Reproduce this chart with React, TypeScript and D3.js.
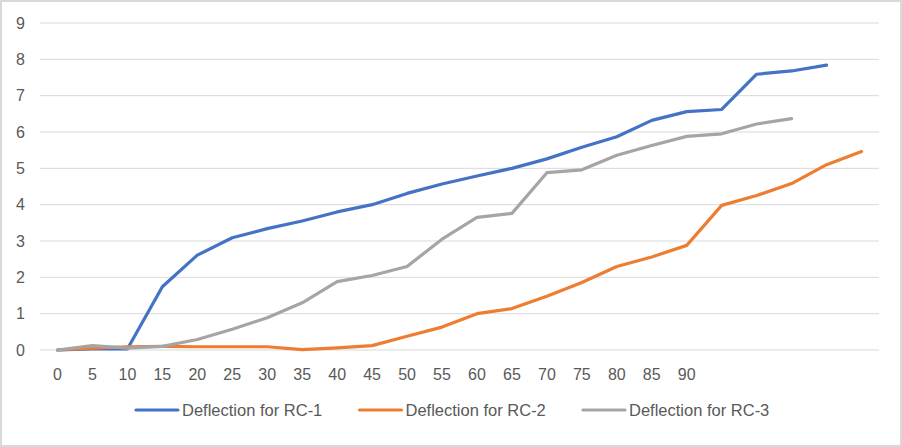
import React from 'react';
import * as d3 from 'd3';

// categories (load steps); only 0..90 carry a visible label
const categories = ['0', '5', '10', '15', '20', '25', '30', '35', '40', '45', '50', '55', '60', '65', '70', '75', '80', '85', '90', '95', '100', '105', '110', '115'];
const tickLabels = ['0', '5', '10', '15', '20', '25', '30', '35', '40', '45', '50', '55', '60', '65', '70', '75', '80', '85', '90', '', '', '', '', ''];

const rc1 = [0, 0.03, 0.03, 1.74, 2.61, 3.09, 3.34, 3.55, 3.8, 4.0, 4.31, 4.57, 4.79, 5.0, 5.26, 5.58, 5.87, 6.32, 6.56, 6.62, 7.59, 7.68, 7.84];
const rc2 = [0, 0.05, 0.09, 0.1, 0.09, 0.09, 0.09, 0.01, 0.06, 0.12, 0.38, 0.63, 1.0, 1.14, 1.48, 1.86, 2.3, 2.56, 2.88, 3.98, 4.25, 4.58, 5.1, 5.46];
const rc3 = [0, 0.12, 0.05, 0.1, 0.29, 0.57, 0.89, 1.3, 1.88, 2.05, 2.3, 3.05, 3.65, 3.76, 4.88, 4.96, 5.36, 5.63, 5.88, 5.95, 6.22, 6.37];

const yTicks = [0, 1, 2, 3, 4, 5, 6, 7, 8, 9];

const seriesNames = ['Deflection for RC-1', 'Deflection for RC-2', 'Deflection for RC-3'];
const seriesColors = ['#4472C4', '#ED7D31', '#A5A5A5'];

const W = 902;
const H = 447;
const plot = { left: 40, right: 879, top: 23, bottom: 350 };
const font = "'Liberation Sans', Arial, sans-serif";
const textColor = '#595959';

export default function App() {
  const x = d3.scaleBand<string>().domain(categories).range([plot.left, plot.right]).paddingInner(0).paddingOuter(0);
  const y = d3.scaleLinear().domain([0, 9]).range([plot.bottom, plot.top]);
  const cx = (i: number) => (x(categories[i]) ?? 0) + x.bandwidth() / 2;

  const line = d3
    .line<number>()
    .x((_, i) => cx(i))
    .y(d => y(d));

  const allSeries = [rc1, rc2, rc3];

  return (
    <div style={{ position: 'absolute', left: 0, top: 0 }}>
      <svg width={W} height={H} style={{ display: 'block', fontFamily: font }}>
        <rect x={0} y={0} width={W} height={H} fill="#fff" />
        <rect x={1} y={1} width={W - 2} height={H - 2} fill="none" stroke="#D9D9D9" strokeWidth={2} />

        {/* horizontal gridlines */}
        {yTicks.map(t => (
          <line key={t} x1={plot.left} x2={plot.right} y1={y(t)} y2={y(t)} stroke="#D9D9D9" strokeWidth={1} />
        ))}

        {/* y labels */}
        {yTicks.map(t => (
          <text key={t} x={25} y={y(t)} dy="0.36em" textAnchor="end" fill={textColor} fontSize={16}>
            {t}
          </text>
        ))}

        {/* x labels */}
        {tickLabels.map((lab, i) => (
          <text key={i} x={cx(i)} y={380} textAnchor="middle" fill={textColor} fontSize={16}>
            {lab}
          </text>
        ))}

        {/* series */}
        {allSeries.map((s, k) => (
          <path
            key={k}
            d={line(s) ?? ''}
            fill="none"
            stroke={seriesColors[k]}
            strokeWidth={3.2}
            strokeLinejoin="round"
            strokeLinecap="round"
          />
        ))}

        {/* legend */}
        {seriesNames.map((name, k) => {
          const lx = 136 + k * 223.5;
          return (
            <g key={name}>
              <line x1={lx} x2={lx + 42} y1={410} y2={410} stroke={seriesColors[k]} strokeWidth={3.2} strokeLinecap="round" />
              <text x={lx + 46} y={410} dy="0.36em" fill={textColor} fontSize={16.5}>
                {name}
              </text>
            </g>
          );
        })}
      </svg>
    </div>
  );
}
